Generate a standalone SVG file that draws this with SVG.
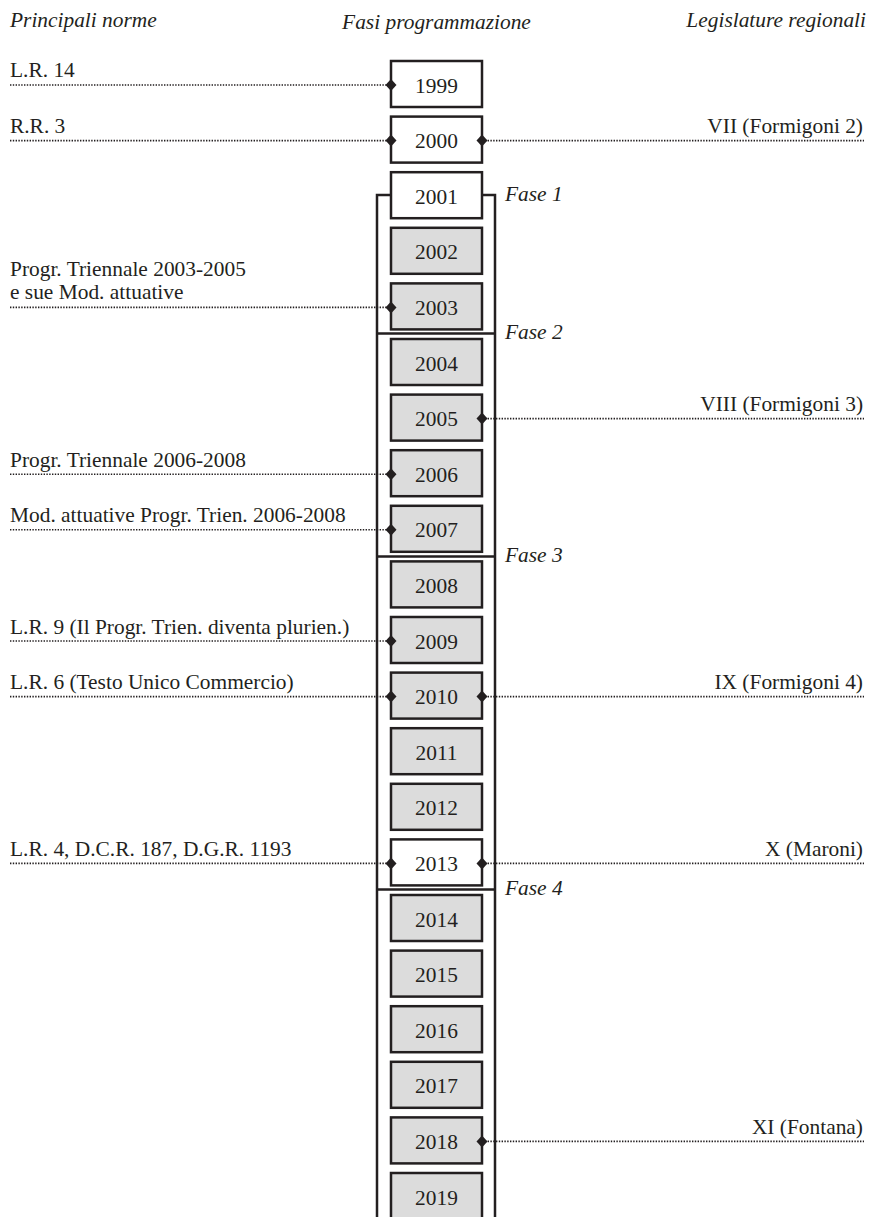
<svg xmlns="http://www.w3.org/2000/svg" width="870" height="1217" viewBox="0 0 870 1217">
<style>
text{font-family:"Liberation Serif","Times New Roman",serif;font-size:21.4px;fill:#231f20}
.h{font-style:italic}
.y{text-anchor:middle}
.r{text-anchor:end}
.box{stroke:#231f20;stroke-width:2.5;fill:#dcdcdc}
.w{fill:#ffffff}
.frame{fill:none;stroke:#231f20;stroke-width:2.5}
.dot{fill:none;stroke:#231f20;stroke-width:1.6;stroke-dasharray:1.4 1.4}
</style>
<defs>
<marker id="dia" viewBox="-7 -7 14 14" markerWidth="14" markerHeight="14" markerUnits="userSpaceOnUse" refX="0" refY="0" orient="auto">
<path d="M-5.5,0 L0,-6 L5.5,0 L0,6 Z" fill="#231f20"/>
</marker>
</defs>
<g id="headers">
<text class="h" x="10" y="27">Principali norme</text>
<text class="h y" x="436.5" y="29">Fasi programmazione</text>
<text class="h r" x="866" y="27">Legislature regionali</text>
</g>
<g id="frame">
<path class="frame" d="M391,195 H377 V1222 M482,195 H495 V1222 M377,333.5 H495 M377,556.5 H495 M377,889.5 H495"/>
<text class="h" x="505" y="201">Fase 1</text>
<text class="h" x="505" y="339">Fase 2</text>
<text class="h" x="505" y="562">Fase 3</text>
<text class="h" x="505" y="895">Fase 4</text>
</g>
<g id="labels-left">
<text x="10" y="77">L.R. 14</text>
<text x="10" y="132.6">R.R. 3</text>
<text x="10" y="276">Progr. Triennale 2003-2005</text>
<text x="10" y="299">e sue Mod. attuative</text>
<text x="10" y="466.5">Progr. Triennale 2006-2008</text>
<text x="10" y="522.3">Mod. attuative Progr. Trien. 2006-2008</text>
<text x="10" y="633.5">L.R. 9 (Il Progr. Trien. diventa plurien.)</text>
<text x="10" y="689">L.R. 6 (Testo Unico Commercio)</text>
<text x="10" y="855.8">L.R. 4, D.C.R. 187, D.G.R. 1193</text>
</g>
<g id="labels-right">
<text class="r" x="863" y="132.6">VII (Formigoni 2)</text>
<text class="r" x="863" y="410.6">VIII (Formigoni 3)</text>
<text class="r" x="863" y="689">IX (Formigoni 4)</text>
<text class="r" x="863" y="855.8">X (Maroni)</text>
<text class="r" x="863" y="1133.8">XI (Fontana)</text>
</g>
<g id="y1999"><rect class="box w" x="391" y="61" width="91" height="46"/><text class="y" x="436.5" y="92.5">1999</text></g>
<g id="y2000"><rect class="box w" x="391" y="116.6" width="91" height="46"/><text class="y" x="436.5" y="148.1">2000</text></g>
<g id="y2001"><rect class="box w" x="391" y="172.2" width="91" height="46"/><text class="y" x="436.5" y="203.7">2001</text></g>
<g id="y2002"><rect class="box" x="391" y="227.8" width="91" height="46"/><text class="y" x="436.5" y="259.3">2002</text></g>
<g id="y2003"><rect class="box" x="391" y="283.4" width="91" height="46"/><text class="y" x="436.5" y="314.9">2003</text></g>
<g id="y2004"><rect class="box" x="391" y="339" width="91" height="46"/><text class="y" x="436.5" y="370.5">2004</text></g>
<g id="y2005"><rect class="box" x="391" y="394.6" width="91" height="46"/><text class="y" x="436.5" y="426.1">2005</text></g>
<g id="y2006"><rect class="box" x="391" y="450.2" width="91" height="46"/><text class="y" x="436.5" y="481.7">2006</text></g>
<g id="y2007"><rect class="box" x="391" y="505.8" width="91" height="46"/><text class="y" x="436.5" y="537.3">2007</text></g>
<g id="y2008"><rect class="box" x="391" y="561.4" width="91" height="46"/><text class="y" x="436.5" y="592.9">2008</text></g>
<g id="y2009"><rect class="box" x="391" y="617" width="91" height="46"/><text class="y" x="436.5" y="648.5">2009</text></g>
<g id="y2010"><rect class="box" x="391" y="672.6" width="91" height="46"/><text class="y" x="436.5" y="704.1">2010</text></g>
<g id="y2011"><rect class="box" x="391" y="728.2" width="91" height="46"/><text class="y" x="436.5" y="759.7">2011</text></g>
<g id="y2012"><rect class="box" x="391" y="783.8" width="91" height="46"/><text class="y" x="436.5" y="815.3">2012</text></g>
<g id="y2013"><rect class="box w" x="391" y="839.4" width="91" height="46"/><text class="y" x="436.5" y="870.9">2013</text></g>
<g id="y2014"><rect class="box" x="391" y="895" width="91" height="46"/><text class="y" x="436.5" y="926.5">2014</text></g>
<g id="y2015"><rect class="box" x="391" y="950.6" width="91" height="46"/><text class="y" x="436.5" y="982.1">2015</text></g>
<g id="y2016"><rect class="box" x="391" y="1006.2" width="91" height="46"/><text class="y" x="436.5" y="1037.7">2016</text></g>
<g id="y2017"><rect class="box" x="391" y="1061.8" width="91" height="46"/><text class="y" x="436.5" y="1093.3">2017</text></g>
<g id="y2018"><rect class="box" x="391" y="1117.4" width="91" height="46"/><text class="y" x="436.5" y="1148.9">2018</text></g>
<g id="y2019"><rect class="box" x="391" y="1173" width="91" height="46"/><text class="y" x="436.5" y="1204.5">2019</text></g>
<g id="connectors">
<path class="dot" marker-end="url(#dia)" d="M10,85 H391"/>
<path class="dot" marker-end="url(#dia)" d="M10,140.6 H391"/>
<path class="dot" marker-end="url(#dia)" d="M10,307.4 H391"/>
<path class="dot" marker-end="url(#dia)" d="M10,474.2 H391"/>
<path class="dot" marker-end="url(#dia)" d="M10,529.8 H391"/>
<path class="dot" marker-end="url(#dia)" d="M10,641 H391"/>
<path class="dot" marker-end="url(#dia)" d="M10,696.6 H391"/>
<path class="dot" marker-end="url(#dia)" d="M10,863.4 H391"/>
<path class="dot" marker-start="url(#dia)" d="M482,140.6 H864"/>
<path class="dot" marker-start="url(#dia)" d="M482,418.6 H864"/>
<path class="dot" marker-start="url(#dia)" d="M482,696.6 H864"/>
<path class="dot" marker-start="url(#dia)" d="M482,863.4 H864"/>
<path class="dot" marker-start="url(#dia)" d="M482,1141.4 H864"/>
</g>
</svg>
